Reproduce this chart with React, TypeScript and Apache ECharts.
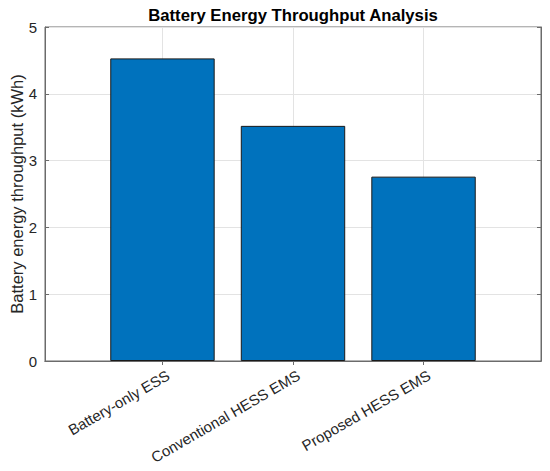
import React, { useEffect, useRef } from "react";
import * as echarts from "echarts";

const categories = ["Battery-only ESS", "Conventional HESS EMS", "Proposed HESS EMS"];
const positions = [1, 2, 3];
const throughput = [4.53, 3.52, 2.76];
const yTicks = [0, 1, 2, 3, 4, 5];
const titleText = "Battery Energy Throughput Analysis";

const FONT = "'Liberation Sans', Arial, Helvetica, sans-serif";
const TEXT = "#262626";
const FRAME = "#6b6b6b";
const GRID = "#e3e3e3";

export default function App() {
  const ref = useRef<HTMLDivElement>(null);
  useEffect(() => {
    if (!ref.current) return;
    const chart = echarts.init(ref.current, undefined, { renderer: "svg" });
    const xBase = {
      type: "value" as const,
      min: 0.1,
      max: 3.9,
    };
    chart.setOption({
      animation: false,
      backgroundColor: "#ffffff",
      graphic: [
        {
          type: "text",
          x: 293,
          y: 15,
          style: {
            text: titleText,
            align: "center",
            verticalAlign: "middle",
            font: `bold 16.7px ${FONT}`,
            fill: "#000",
          },
        },
      ],
      grid: {
        left: 45,
        right: 9,
        top: 27,
        bottom: 110,
        containLabel: false,
        outerBoundsMode: "none",
        show: true,
        borderColor: FRAME,
        borderWidth: 1,
      },
      xAxis: [
        {
          ...xBase,
          position: "bottom",
          axisLine: { show: true, lineStyle: { color: FRAME } },
          axisTick: { show: true, inside: true, length: 4, customValues: positions, lineStyle: { color: FRAME } },
          axisLabel: {
            customValues: positions,
            rotate: 30,
            margin: 3,
            verticalAlign: "top",
            padding: [4, 0, 0, 0],
            fontFamily: FONT,
            fontSize: 15,
            color: TEXT,
            formatter: (v: number) => categories[positions.indexOf(Math.round(v))] ?? "",
          },
          splitLine: { show: true, lineStyle: { color: GRID } },
        },
        {
          ...xBase,
          position: "top",
          axisLine: { show: true, lineStyle: { color: FRAME } },
          axisTick: { show: true, inside: true, length: 4, customValues: positions, lineStyle: { color: FRAME } },
          axisLabel: { show: false },
          splitLine: { show: false },
        },
      ],
      yAxis: [
        {
          type: "value",
          min: 0,
          max: 5,
          interval: 1,
          name: "Battery energy throughput (kWh)",
          nameLocation: "middle",
          nameGap: 20,
          nameMoveOverlap: false,
          nameTextStyle: { fontFamily: FONT, fontSize: 16.5, color: TEXT },
          axisLine: { show: true, lineStyle: { color: FRAME } },
          axisTick: { show: true, inside: true, length: 4, lineStyle: { color: FRAME } },
          axisLabel: {
            margin: 8,
            fontFamily: FONT,
            fontSize: 15,
            color: TEXT,
            formatter: (v: number) => (yTicks.includes(v) ? String(v) : ""),
          },
          splitLine: { show: true, lineStyle: { color: GRID } },
        },
        {
          type: "value",
          min: 0,
          max: 5,
          interval: 1,
          position: "right",
          axisLine: { show: true, lineStyle: { color: FRAME } },
          axisTick: { show: true, inside: true, length: 4, lineStyle: { color: FRAME } },
          axisLabel: { show: false },
          splitLine: { show: false },
        },
      ],
      series: [
        {
          type: "bar",
          xAxisIndex: 0,
          yAxisIndex: 0,
          barWidth: "80%",
          data: positions.map((p, i) => [p, throughput[i]]),
          itemStyle: { color: "#0072BD", borderColor: "#1a1a1a", borderWidth: 1 },
          z: 3,
        },
      ],
    });
    return () => chart.dispose();
  }, []);
  return (
    <div
      ref={ref}
      style={{ position: "absolute", left: 0, top: 0, width: 550, height: 471 }}
    />
  );
}
